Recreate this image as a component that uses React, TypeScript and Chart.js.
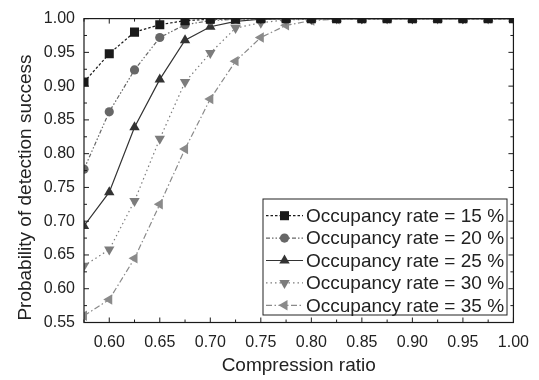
import React, { useEffect, useRef } from "react";
import { Chart, registerables } from "chart.js";
import { drawPoint } from "chart.js/helpers";

Chart.register(...registerables);

// ---- data ----
const compressionRatio = [
  0.575, 0.6, 0.625, 0.65, 0.675, 0.7, 0.725, 0.75, 0.775, 0.8, 0.825, 0.85,
  0.875, 0.9, 0.925, 0.95, 0.975, 1.0,
];
const rate15 = [0.906, 0.948, 0.98, 0.991, 0.997, 0.999, 1, 1, 1, 1, 1, 1, 1, 1, 1, 1, 1, 1];
const rate20 = [0.777, 0.862, 0.924, 0.972, 0.991, 0.997, 0.999, 1, 1, 1, 1, 1, 1, 1, 1, 1, 1, 1];
const rate25 = [0.693, 0.743, 0.839, 0.91, 0.968, 0.988, 0.996, 0.999, 1, 1, 1, 1, 1, 1, 1, 1, 1, 1];
const rate30 = [0.634, 0.658, 0.73, 0.822, 0.906, 0.949, 0.986, 0.994, 0.998, 0.999, 1, 1, 1, 1, 1, 1, 1, 1];
const rate35 = [0.56, 0.584, 0.645, 0.725, 0.807, 0.881, 0.937, 0.972, 0.99, 0.997, 0.999, 1, 1, 1, 1, 1, 1, 1];
const seriesLabels = [
  "Occupancy rate = 15 %",
  "Occupancy rate = 20 %",
  "Occupancy rate = 25 %",
  "Occupancy rate = 30 %",
  "Occupancy rate = 35 %",
];
const xTickValues = [0.6, 0.65, 0.7, 0.75, 0.8, 0.85, 0.9, 0.95, 1.0];
const xMinorTickValues = [0.575, 0.625, 0.675, 0.725, 0.775, 0.825, 0.875, 0.925, 0.975];
const yTickValues = [0.55, 0.6, 0.65, 0.7, 0.75, 0.8, 0.85, 0.9, 0.95, 1.0];
const yMinorTickValues = [0.575, 0.625, 0.675, 0.725, 0.775, 0.825, 0.875, 0.925, 0.975];
const xTitle = "Compression ratio";
const yTitle = "Probability of detection success";

const FONT = "'Liberation Sans', Arial, Helvetica, sans-serif";
const TEXT = "#222222";

const styles = [
  { color: "#1a1a1a", dash: [2.5, 2], pointStyle: "rect", radius: 6.4, rotation: 0 },
  { color: "#676767", dash: [4, 2, 1.5, 2, 1.5, 2], pointStyle: "circle", radius: 4.6, rotation: 0 },
  { color: "#333333", dash: [], pointStyle: "triangle", radius: 6, rotation: 0 },
  { color: "#7c7c7c", dash: [1.5, 3], pointStyle: "triangle", radius: 6, rotation: 180 },
  { color: "#8a8a8a", dash: [6, 2.5, 1.5, 2.5], pointStyle: "triangle", radius: 6, rotation: -90 },
];
const seriesValues = [rate15, rate20, rate25, rate30, rate35];

const framePlugin = {
  id: "frameTicks",
  afterDatasetsDraw(chart: any) {
    const { ctx, chartArea: a, scales } = chart;
    const xs = scales.x;
    const ys = scales.y;
    ctx.save();
    ctx.strokeStyle = "#1a1a1a";
    ctx.setLineDash([]);
    ctx.lineWidth = 1.2;
    ctx.strokeRect(a.left, a.top, a.right - a.left, a.bottom - a.top);
    ctx.lineWidth = 1;
    const seg = (x1: number, y1: number, x2: number, y2: number) => {
      ctx.beginPath();
      ctx.moveTo(x1, y1);
      ctx.lineTo(x2, y2);
      ctx.stroke();
    };
    const xt = (vals: number[], len: number) =>
      vals.forEach((v) => {
        const p = xs.getPixelForValue(v);
        seg(p, a.bottom, p, a.bottom - len);
        seg(p, a.top, p, a.top + len);
      });
    const yt = (vals: number[], len: number) =>
      vals.forEach((v) => {
        const p = ys.getPixelForValue(v);
        seg(a.left, p, a.left + len, p);
        seg(a.right, p, a.right - len, p);
      });
    xt(xTickValues, 5);
    xt(xMinorTickValues, 3);
    yt(yTickValues, 5);
    yt(yMinorTickValues, 3);

    // y axis title
    const cy = (a.top + a.bottom) / 2 + 17;
    ctx.translate(26, cy);
    ctx.rotate(-Math.PI / 2);
    ctx.fillStyle = TEXT;
    ctx.font = `19px ${FONT}`;
    ctx.textAlign = "center";
    ctx.textBaseline = "middle";
    ctx.fillText(yTitle, 0, 0);
    ctx.restore();
  },
};

const legendPlugin = {
  id: "boxLegend",
  afterDraw(chart: any) {
    const { ctx } = chart;
    const box = { left: 263, top: 199, right: 507, bottom: 315 };
    ctx.save();
    ctx.fillStyle = "#ffffff";
    ctx.fillRect(box.left, box.top, box.right - box.left, box.bottom - box.top);
    ctx.strokeStyle = "#222222";
    ctx.lineWidth = 1;
    ctx.setLineDash([]);
    ctx.strokeRect(box.left, box.top, box.right - box.left, box.bottom - box.top);
    chart.data.datasets.forEach((ds: any, i: number) => {
      const y = 215.7 + i * 22.4;
      ctx.strokeStyle = ds.borderColor;
      ctx.lineWidth = ds.borderWidth;
      ctx.setLineDash(ds.borderDash || []);
      ctx.beginPath();
      ctx.moveTo(266, y);
      ctx.lineTo(303, y);
      ctx.stroke();
      ctx.setLineDash([]);
      ctx.fillStyle = ds.pointBackgroundColor;
      ctx.strokeStyle = ds.pointBorderColor;
      drawPoint(
        ctx,
        {
          pointStyle: ds.pointStyle,
          rotation: ds.pointRotation,
          radius: ds.pointRadius,
          borderWidth: 0,
        },
        284.5,
        y
      );
      ctx.fillStyle = TEXT;
      ctx.font = `19px ${FONT}`;
      ctx.textAlign = "left";
      ctx.textBaseline = "middle";
      ctx.fillText(ds.label, 306, y + 1);
    });
    ctx.restore();
  },
};

export default function App() {
  const ref = useRef<HTMLCanvasElement | null>(null);
  useEffect(() => {
    if (!ref.current) return;
    const datasets = seriesValues.map((vals, i) => ({
      label: seriesLabels[i],
      data: compressionRatio.map((x, j) => ({ x, y: vals[j] })),
      borderColor: styles[i].color,
      borderWidth: 1.2,
      borderDash: styles[i].dash,
      pointStyle: styles[i].pointStyle,
      pointRotation: styles[i].rotation,
      pointRadius: styles[i].radius,
      pointBackgroundColor: styles[i].color,
      pointBorderColor: styles[i].color,
      pointBorderWidth: 0,
      tension: 0,
      fill: false,
      clip: 0,
    }));
    const chart = new Chart(ref.current, {
      type: "line",
      data: { datasets },
      options: {
        animation: false,
        responsive: false,
        devicePixelRatio: 1,
        layout: { padding: { top: 14, right: 22.5, left: 0, bottom: 0 } },
        plugins: { legend: { display: false }, tooltip: { enabled: false } },
        scales: {
          x: {
            type: "linear",
            min: 0.575,
            max: 1.0,
            grid: { display: false, drawTicks: false },
            border: { display: false },
            afterBuildTicks: (axis: any) => {
              axis.ticks = xTickValues.map((v) => ({ value: v }));
            },
            afterFit: (axis: any) => {
              axis.height = 57.5;
            },
            ticks: {
              color: TEXT,
              font: { family: FONT, size: 16 },
              padding: 10,
              maxRotation: 0,
              autoSkip: false,
              callback: (v: any) => Number(v).toFixed(2),
            },
            title: {
              display: true,
              text: xTitle,
              color: TEXT,
              font: { family: FONT, size: 19 },
              padding: { top: 0, bottom: 3 },
            },
          },
          y: {
            type: "linear",
            min: 0.55,
            max: 1.0,
            grid: { display: false, drawTicks: false },
            border: { display: false },
            afterBuildTicks: (axis: any) => {
              axis.ticks = yTickValues.map((v) => ({ value: v }));
            },
            afterFit: (axis: any) => {
              axis.width = 84;
            },
            ticks: {
              color: TEXT,
              font: { family: FONT, size: 16 },
              padding: 9,
              autoSkip: false,
              callback: (v: any) => Number(v).toFixed(2),
            },
          },
        },
      },
      plugins: [framePlugin, legendPlugin],
    });
    return () => chart.destroy();
  }, []);
  return (
    <div style={{ position: "absolute", left: 0, top: 0, width: 539, height: 380, background: "#fff" }}>
      <canvas ref={ref} width={539} height={380} style={{ width: 539, height: 380 }} />
    </div>
  );
}
